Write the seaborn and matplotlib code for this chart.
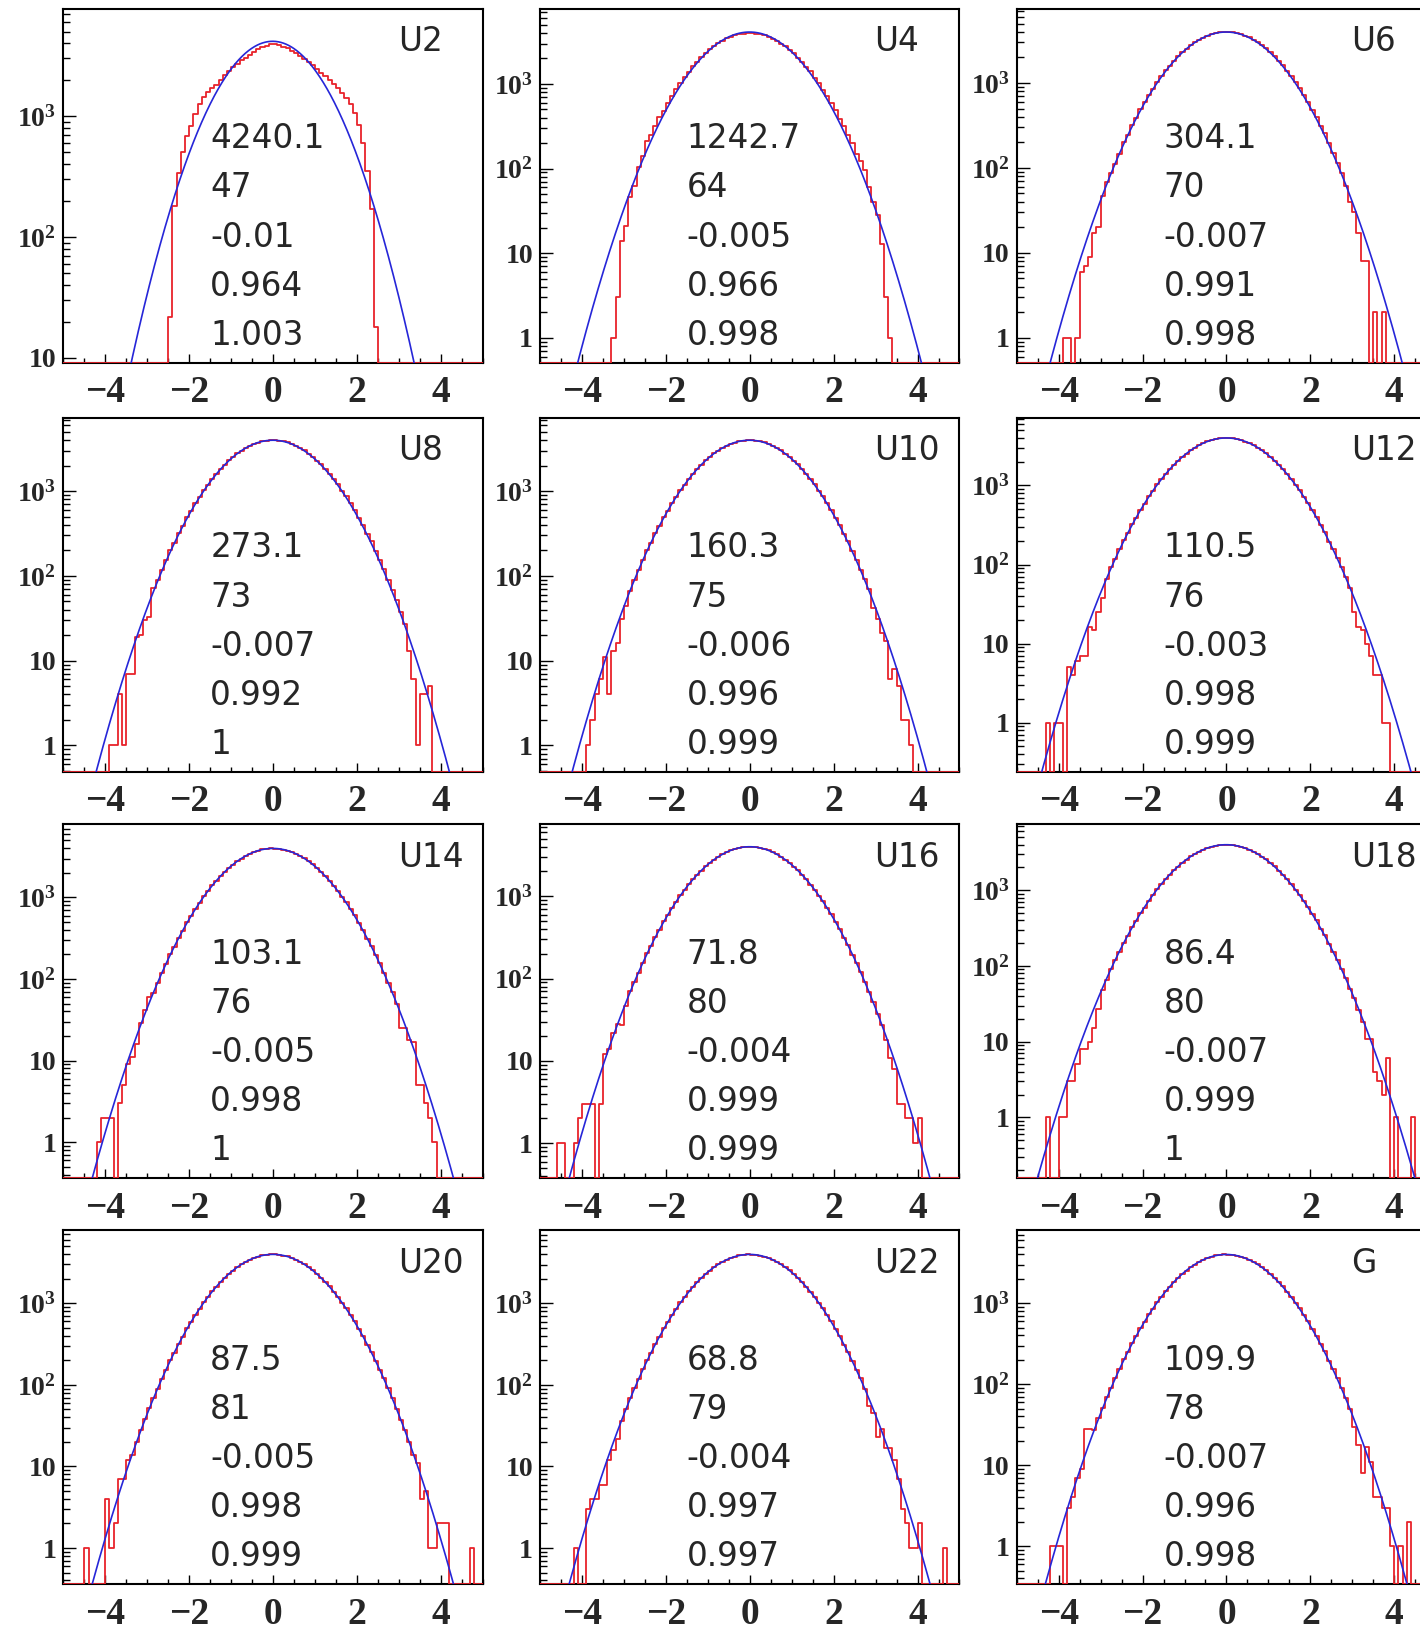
import matplotlib
matplotlib.use("Agg")
import matplotlib.pyplot as plt
import matplotlib.ticker as mticker
import numpy as np
import pandas as pd
import seaborn as sns

# ========== data ==========
panel_names = ["U2", "U4", "U6", "U8", "U10", "U12",
               "U14", "U16", "U18", "U20", "U22", "G"]

# fit results printed in each panel
fit_chi2 = ["4240.1", "1242.7", "304.1", "273.1", "160.3", "110.5",
            "103.1", "71.8", "86.4", "87.5", "68.8", "109.9"]
fit_ndf = ["47", "64", "70", "73", "75", "76", "76", "80", "80", "81", "79", "78"]
fit_mean = ["-0.01", "-0.005", "-0.007", "-0.007", "-0.006", "-0.003",
            "-0.005", "-0.004", "-0.007", "-0.005", "-0.004", "-0.007"]
fit_sigma = ["0.964", "0.966", "0.991", "0.992", "0.996", "0.998",
             "0.998", "0.999", "0.999", "0.998", "0.997", "0.996"]
fit_ratio = ["1.003", "0.998", "0.998", "1", "0.999", "0.999",
             "1", "0.999", "1", "0.999", "0.997", "0.998"]
fit_amp = [4150, 4100, 3980, 3990, 3990, 3990, 3990, 3990, 3990, 3990, 3990, 3990]

# y range of each pad
y_low = [9.15, 0.51, 0.51, 0.49, 0.49, 0.24, 0.36, 0.376, 0.157, 0.36, 0.36, 0.34]
y_high = [7730, 7750, 7500, 7360, 7360, 7200, 7890, 7480, 7430, 7890, 7900, 7950]

# bins of width 0.1 on [-5, 5]; the central 50 bins cover [-2.5, 2.5)
core_counts = [203, 247, 322, 389, 495, 590, 728, 856, 1031, 1192, 1402, 1597, 1835,
               2049, 2310, 2528, 2792, 3001, 3240, 3418, 3617, 3741, 3879, 3931, 3995,
               3978, 3950, 3858, 3760, 3596, 3437, 3221, 3020, 2771, 2549, 2290, 2066,
               1817, 1611, 1388, 1207, 1016, 869, 715, 601, 483, 399, 312, 256, 195]
u2_core = [22, 179, 340, 500, 686, 830, 1040, 1260, 1430, 1575, 1700, 1810, 1970,
           2170, 2340, 2530, 2710, 2890, 3040, 3220, 3390, 3570, 3710, 3830, 3930,
           3940, 3860, 3750, 3620, 3460, 3300, 3130, 2960, 2790, 2620, 2450, 2290,
           2130, 1980, 1830, 1690, 1550, 1410, 1250, 1060, 840, 600, 350, 172, 18]
u4_core = [210, 250, 322, 402, 480, 600, 716, 870, 1015, 1210, 1385, 1612, 1818,
           2070, 2290, 2552, 2770, 3020, 3215, 3440, 3590, 3765, 3850, 3935, 3960,
           3975, 3935, 3875, 3740, 3620, 3415, 3240, 3000, 2795, 2530, 2310, 2045,
           1838, 1595, 1405, 1190, 1030, 855, 728, 590, 495, 390, 322, 247, 200]

# tails: 25 bins on [-5, -2.5) and 25 bins on [2.5, 5)
no_tail = [0, 0, 0, 0, 0, 0, 0, 0, 0, 0, 0, 0, 0, 0, 0, 0, 0, 0, 0, 0, 0, 0, 0, 0, 0]
u4_left = [0, 0, 0, 0, 0, 0, 0, 0, 0, 0, 0, 0, 0, 0, 0, 0, 0, 1, 3, 14, 21, 46, 63, 103, 141]
u4_right = [150, 122, 95, 60, 40, 28, 13, 3, 1, 0, 0, 0, 0, 0, 0, 0, 0, 0, 0, 0, 0, 0, 0, 0, 0]
u6_left = [0, 0, 0, 0, 0, 0, 0, 0, 0, 0, 0, 1, 1, 0, 1, 6, 7, 9, 17, 20, 47, 68, 86, 112, 146]
u6_right = [150, 114, 86, 62, 40, 30, 17, 8, 8, 0, 2, 0, 2, 0, 0, 0, 0, 0, 0, 0, 0, 0, 0, 0, 0]
u8_left = [0, 0, 0, 0, 0, 0, 0, 0, 0, 0, 0, 1, 1, 4, 1, 7, 7, 19, 20, 30, 33, 72, 90, 118, 152]
u8_right = [153, 121, 90, 68, 52, 37, 27, 13, 6, 1, 4, 4, 5, 0, 0, 0, 0, 0, 0, 0, 0, 0, 0, 0, 0]
u10_left = [0, 0, 0, 0, 0, 0, 0, 0, 0, 0, 0, 1, 2, 4, 6, 11, 4, 13, 16, 31, 44, 66, 90, 118, 155]
u10_right = [152, 118, 92, 70, 42, 31, 21, 17, 6, 8, 5, 2, 2, 1, 0, 0, 0, 0, 0, 0, 0, 0, 0, 0, 0]
u12_left = [0, 0, 0, 0, 0, 0, 0, 1, 0, 1, 1, 0, 5, 4, 6, 7, 7, 16, 15, 25, 38, 66, 92, 117, 156]
u12_right = [155, 120, 92, 70, 50, 25, 16, 15, 10, 7, 4, 4, 1, 1, 0, 0, 0, 0, 0, 0, 0, 0, 0, 0, 0]
u14_left = [0, 0, 0, 0, 0, 0, 0, 0, 1, 2, 2, 2, 0, 3, 5, 9, 11, 16, 29, 42, 60, 68, 89, 120, 152]
u14_right = [156, 118, 90, 70, 50, 25, 25, 18, 17, 5, 5, 3, 2, 1, 0, 0, 0, 0, 0, 0, 0, 0, 0, 0, 0]
u16_left = [0, 0, 0, 0, 1, 1, 0, 0, 1, 2, 3, 3, 3, 0, 3, 12, 14, 22, 28, 27, 46, 70, 92, 118, 153]
u16_right = [154, 119, 91, 68, 52, 37, 27, 18, 11, 8, 3, 3, 2, 2, 1, 2, 0, 0, 0, 0, 0, 0, 0, 0, 0]
u18_left = [0, 0, 0, 0, 0, 0, 0, 1, 0, 0, 1, 1, 3, 3, 5, 8, 8, 10, 15, 27, 48, 66, 90, 120, 155]
u18_right = [152, 118, 90, 70, 50, 38, 26, 18, 11, 11, 4, 3, 2, 6, 0, 1, 0, 0, 0, 1, 0, 0, 0, 0, 0]
u20_left = [0, 0, 0, 0, 0, 1, 0, 0, 0, 0, 4, 1, 2, 7, 7, 12, 14, 20, 28, 38, 52, 69, 90, 119, 154]
u20_right = [154, 120, 92, 69, 51, 37, 28, 20, 14, 11, 4, 5, 1, 1, 2, 2, 2, 0, 0, 0, 0, 0, 1, 0, 0]
u22_left = [0, 0, 0, 0, 0, 0, 0, 0, 1, 0, 0, 3, 4, 4, 6, 6, 12, 16, 22, 36, 50, 70, 91, 118, 155]
u22_right = [153, 120, 90, 55, 45, 23, 29, 17, 17, 12, 7, 3, 2, 1, 1, 2, 0, 0, 0, 0, 0, 1, 0, 0, 0]
g_left = [0, 0, 0, 0, 0, 0, 0, 0, 1, 1, 1, 0, 3, 4, 7, 9, 28, 28, 27, 38, 51, 70, 90, 120, 152]
g_right = [152, 120, 90, 68, 50, 30, 18, 8, 17, 11, 4, 4, 3, 3, 1, 0, 1, 0, 2, 0, 0, 0, 0, 0, 0]

panel_left = [no_tail, u4_left, u6_left, u8_left, u10_left, u12_left,
              u14_left, u16_left, u18_left, u20_left, u22_left, g_left]
panel_core = [u2_core, u4_core] + [core_counts] * 10
panel_right = [no_tail, u4_right, u6_right, u8_right, u10_right, u12_right,
               u14_right, u16_right, u18_right, u20_right, u22_right, g_right]

bin_edges = [round(-5.0 + 0.1 * k, 2) for k in range(101)]
hist_color = "#e8232b"
fit_color = "#2626d8"

sns.set_style("white")
plt.rcParams["font.family"] = ["Liberation Serif", "DejaVu Serif"]
plt.rcParams["font.weight"] = "bold"
plt.rcParams["mathtext.fontset"] = "custom"
plt.rcParams["mathtext.rm"] = "Liberation Serif:bold"
plt.rcParams["mathtext.it"] = "Liberation Serif:bold"
plt.rcParams["mathtext.bf"] = "Liberation Serif:bold"
plt.rcParams["mathtext.default"] = "rm"
plt.rcParams["axes.unicode_minus"] = True


def log_label(v, pos):
    p = int(round(np.log10(v)))
    if p == 0:
        return "1"
    if p == 1:
        return "10"
    return r"$10^{%d}$" % p


def draw_panel(ax, i):
    counts = np.array(panel_left[i] + panel_core[i] + panel_right[i], dtype=float)
    centers = np.array(bin_edges[:-1]) + 0.05
    # empty bins are drawn on the frame bottom, as ROOT does
    hist_df = pd.DataFrame({"x": centers, "n": np.maximum(counts, y_low[i])})
    sns.histplot(data=hist_df, x="x", weights="n", bins=bin_edges, element="step",
                 fill=False, color=hist_color, linewidth=1.3, ax=ax, zorder=3)

    mu, sig = float(fit_mean[i]), float(fit_sigma[i])
    xs = np.linspace(-5, 5, 801)
    fit_df = pd.DataFrame({"x": xs, "y": fit_amp[i] * np.exp(-0.5 * ((xs - mu) / sig) ** 2)})
    sns.lineplot(data=fit_df, x="x", y="y", color=fit_color, linewidth=1.2, ax=ax,
                 estimator=None, sort=False, zorder=4)

    ax.set_yscale("log")
    ax.set_xlim(-5, 5)
    ax.set_ylim(y_low[i], y_high[i])
    ax.set_xlabel("")
    ax.set_ylabel("")

    ax.xaxis.set_major_locator(mticker.MultipleLocator(2))
    ax.xaxis.set_minor_locator(mticker.MultipleLocator(0.5))
    ax.yaxis.set_major_locator(mticker.LogLocator(base=10, numticks=12))
    ax.yaxis.set_minor_locator(mticker.LogLocator(base=10, subs=np.arange(2, 10), numticks=40))
    ax.yaxis.set_major_formatter(mticker.FuncFormatter(log_label))
    ax.yaxis.set_minor_formatter(mticker.NullFormatter())

    ax.tick_params(which="both", direction="in", bottom=True, left=True,
                   top=False, right=False, color="black")
    ax.tick_params(axis="x", which="major", length=6.5, width=1.0, pad=9, labelsize=27)
    ax.tick_params(axis="x", which="minor", length=3.6, width=1.0)
    ax.tick_params(axis="y", which="major", length=9.5, width=1.0, pad=5, labelsize=20)
    ax.tick_params(axis="y", which="minor", length=5, width=1.0)

    for sp in ax.spines.values():
        sp.set_linewidth(1.5)
        sp.set_color("black")

    # fit summary
    lines = [fit_chi2[i], fit_ndf[i], fit_mean[i], fit_sigma[i], fit_ratio[i]]
    for k, s in enumerate(lines):
        ax.text(0.35, 0.605 - 0.1385 * k, s, transform=ax.transAxes, fontsize=23.5,
                family="DejaVu Sans", fontweight="normal", ha="left", va="baseline")
    ax.text(0.797, 0.88, panel_names[i], transform=ax.transAxes, fontsize=23.5,
            family="DejaVu Sans", fontweight="normal", ha="left", va="baseline")


fig = plt.figure(figsize=(14.2, 16.29), dpi=100)
col_left = [0.0446, 0.3803, 0.7160]
row_bottom = [0.7774, 0.5263, 0.2767, 0.0275]
for i in range(12):
    r, c = divmod(i, 3)
    ax = fig.add_axes([col_left[c], row_bottom[r], 0.2954, 0.2173])
    draw_panel(ax, i)

fig.savefig("out.png", dpi=100, facecolor="white")
